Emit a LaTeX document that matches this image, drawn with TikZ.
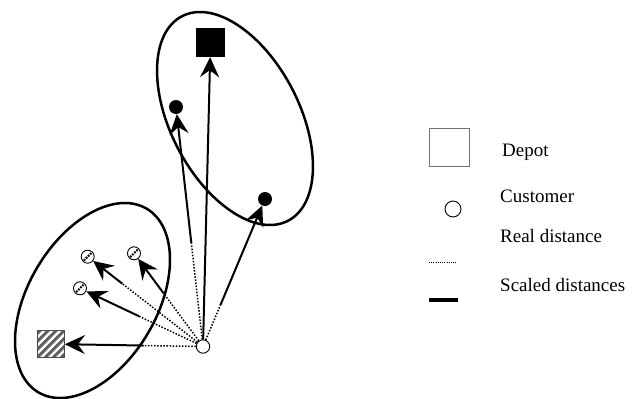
\documentclass[tikz,border=0pt]{standalone}
\usepackage{fontspec}
\setmainfont{Liberation Serif}
\usetikzlibrary{arrows.meta,calc}
\begin{document}
\begin{tikzpicture}[x=1pt,y=-1pt,
  cluster/.style={line width=2.5pt},
  realdist/.style={line width=1.5pt, dash pattern=on 1.5pt off 1.6pt},
  scaled/.style={line width=2pt, -{Stealth[length=20pt,width=19pt,inset=7pt]}},
  origincust/.style={circle, draw, fill=white, line width=0.9pt, minimum size=13.4pt, inner sep=0pt},
  hcust/.style={circle, draw, fill=white, line width=0.9pt, minimum size=13pt, inner sep=0pt,
    path picture={\draw[line width=2pt, dash pattern=on 1.8pt off 1.1pt]
      ($(path picture bounding box.center)+(-3.8pt,-3.8pt)$) -- ($(path picture bounding box.center)+(3.8pt,3.8pt)$);}},
  dotcust/.style={circle, fill=black, minimum size=14pt, inner sep=0pt},
  hdepot/.style={rectangle, draw=black!70, line width=0.8pt, minimum size=27.5pt, inner sep=0pt,
    path picture={\foreach \k in {-32,-24,...,32}
      \draw[black!62, line width=2.9pt]
        ($(path picture bounding box.center)+(\k pt-20pt,-20pt)$) -- ($(path picture bounding box.center)+(\k pt+20pt,20pt)$);}},
  bdepot/.style={rectangle, fill=black, minimum size=29pt, inner sep=0pt},
  legtext/.style={anchor=base west, inner sep=0pt, font=\fontsize{19}{22}\selectfont}
]
\useasboundingbox (0,0) rectangle (635,399);

% clusters
\draw[cluster, rotate around={59.5:(92.5,300.5)}] (92.5,300.5) ellipse [x radius=106.6pt, y radius=64.4pt];
\draw[cluster, rotate around={-62.6:(235,118.5)}] (235,118.5) ellipse [x radius=115.2pt, y radius=64.4pt];

% nodes
\node[origincust] (o) at (203,346.5) {};
\node[hcust] (c1) at (87.7,256.7) {};
\node[hcust] (c2) at (134,253.3) {};
\node[hcust] (c3) at (80,288.3) {};
\node[hdepot] (d1) at (50.75,344) {};
\node[dotcust] (c4) at (176,107) {};
\node[dotcust] (c5) at (265,199) {};
\node[bdepot] (d2) at (210.5,42.5) {};

% split points
\coordinate (s1) at ($(o)!0.70!(c1)$);
\coordinate (s2) at ($(o)!0.57!(c2)$);
\coordinate (s3) at ($(o)!0.52!(c3)$);
\coordinate (s4) at ($(o)!0.39!(d1)$);
\coordinate (s5) at ($(o)!0.43!(c4)$);
\coordinate (s6) at ($(o)!0.28!(c5)$);

% real distances
\draw[realdist] (o) -- (s1);
\draw[realdist] (o) -- (s2);
\draw[realdist] (o) -- (s3);
\draw[realdist] (o) -- (s4);
\draw[realdist] (o) -- (s5);
\draw[realdist] (o) -- (s6);

% scaled distances
\draw[scaled] (s1) -- (c1);
\draw[scaled] (s2) -- (c2);
\draw[scaled] (s3) -- (c3);
\draw[scaled] (s4) -- (d1);
\draw[scaled] (s5) -- (c4);
\draw[scaled] (o) -- (d2);
\draw[scaled] (s6) -- (c5);

% legend
\node[rectangle, draw=black!55, line width=1pt, minimum width=40pt, minimum height=38pt, inner sep=0pt] (lsq) at (449,147) {};
\node[legtext] (ldepot) at (502,156) {Depot};
\node[circle, draw, line width=0.9pt, minimum size=16pt, inner sep=0pt] (lcirc) at (453,209) {};
\node[legtext] (lcust) at (500,202.7) {Customer};
\coordinate (ld1) at (429,262);
\coordinate (ld2) at (457,262);
\draw[line width=0.8pt, dash pattern=on 1pt off 1.2pt] (ld1) -- (ld2);
\node[legtext] (lreal) at (500,242.3) {Real distance};
\coordinate (ls1) at (429,300);
\coordinate (ls2) at (458,300);
\draw[line width=4pt] (ls1) -- (ls2);
\node[legtext] (lscaled) at (500,291.7) {Scaled distances};
\end{tikzpicture}
\end{document}
